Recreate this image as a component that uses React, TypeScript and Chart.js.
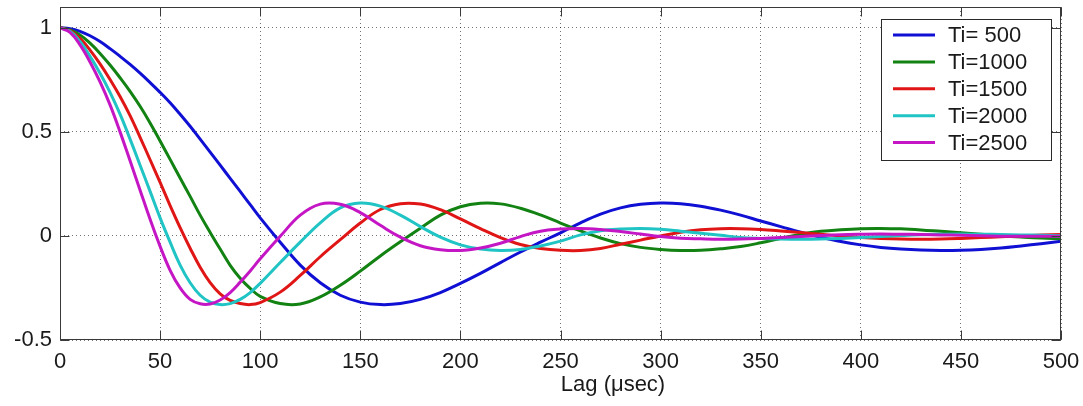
import React, { useEffect, useRef } from 'react';
import { Chart, registerables } from 'chart.js';

Chart.register(...registerables);

// Lag values (µsec)
const lags = [
  0, 5, 10, 15, 20, 25, 30, 35, 40, 45, 50, 55, 60, 65, 70, 75, 80, 85, 90, 95, 100,
  110, 120, 130, 140, 150, 160, 170, 180, 190, 200, 210, 220, 230, 240, 250, 260, 270, 280, 290, 300,
  310, 320, 330, 340, 350, 360, 370, 380, 390, 400, 410, 420, 430, 440, 450, 460, 470, 480, 490, 500,
];

const ti500 = [
  1.0, 0.996, 0.983, 0.962, 0.934, 0.9, 0.863, 0.824, 0.782, 0.737, 0.69, 0.64, 0.585, 0.527, 0.465, 0.403, 0.34, 0.277, 0.214, 0.15, 0.087,
  -0.03, -0.14, -0.225, -0.285, -0.318, -0.33, -0.325, -0.305, -0.272, -0.228,
  -0.18, -0.128, -0.077, -0.03, 0.015, 0.063, 0.105, 0.135, 0.152, 0.158,
  0.155, 0.143, 0.124, 0.1, 0.072, 0.045, 0.018, -0.006, -0.027, -0.043,
  -0.055, -0.063, -0.068, -0.07, -0.069, -0.065, -0.058, -0.048, -0.037, -0.025,
];

const ti1000 = [
  1.0, 0.99, 0.966, 0.926, 0.877, 0.821, 0.76, 0.695, 0.623, 0.543, 0.456, 0.368, 0.278, 0.19, 0.1, 0.017, -0.063, -0.141, -0.203, -0.252, -0.29,
  -0.325, -0.327, -0.293, -0.237, -0.169, -0.096, -0.028, 0.037, 0.1, 0.14,
  0.157, 0.154, 0.133, 0.101, 0.062, 0.024, -0.01, -0.037, -0.055, -0.065,
  -0.07, -0.069, -0.062, -0.051, -0.033, -0.012, 0.008, 0.022, 0.03, 0.035,
  0.036, 0.034, 0.029, 0.022, 0.015, 0.008, 0.001, -0.005, -0.01, -0.013,
];

const ti1500 = [
  1.0, 0.987, 0.949, 0.893, 0.827, 0.752, 0.67, 0.578, 0.474, 0.366, 0.257, 0.146, 0.04, -0.059, -0.15, -0.224, -0.278, -0.31, -0.325, -0.33, -0.32,
  -0.27, -0.19, -0.1, -0.018, 0.062, 0.127, 0.155, 0.153, 0.126, 0.082,
  0.035, -0.008, -0.041, -0.06, -0.069, -0.07, -0.06, -0.04, -0.02, 0.0,
  0.018, 0.03, 0.035, 0.035, 0.031, 0.024, 0.016, 0.008, 0.0, -0.007,
  -0.012, -0.015, -0.016, -0.015, -0.012, -0.008, -0.004, 0.0, 0.004, 0.007,
];

const ti2000 = [
  1.0, 0.983, 0.934, 0.863, 0.782, 0.69, 0.585, 0.465, 0.34, 0.214, 0.087, -0.03, -0.14, -0.225, -0.285, -0.318, -0.33, -0.325, -0.305, -0.272, -0.228,
  -0.128, -0.03, 0.063, 0.135, 0.158, 0.143, 0.1, 0.045, -0.006, -0.043,
  -0.063, -0.07, -0.065, -0.048, -0.025, 0.005, 0.025, 0.033, 0.036, 0.032,
  0.023, 0.013, 0.003, -0.007, -0.012, -0.015, -0.016, -0.015, -0.012, -0.008,
  -0.003, 0.002, 0.006, 0.008, 0.009, 0.008, 0.007, 0.005, 0.003, 0.001,
];

const ti2500 = [
  1.0, 0.978, 0.918, 0.836, 0.74, 0.63, 0.5, 0.361, 0.22, 0.08, -0.05, -0.165, -0.25, -0.305, -0.326, -0.327, -0.308, -0.272, -0.222, -0.168, -0.11,
  -0.002, 0.1, 0.153, 0.152, 0.112, 0.051, -0.006, -0.047, -0.066, -0.07,
  -0.058, -0.035, -0.003, 0.023, 0.033, 0.036, 0.031, 0.021, 0.009, -0.003,
  -0.011, -0.014, -0.016, -0.015, -0.012, -0.008, -0.003, 0.002, 0.006, 0.008,
  0.009, 0.008, 0.007, 0.005, 0.003, 0.001, -0.001, -0.002, -0.002, -0.002,
];

const seriesLabels = ['Ti= 500', 'Ti=1000', 'Ti=1500', 'Ti=2000', 'Ti=2500'];
const seriesValues = [ti500, ti1000, ti1500, ti2000, ti2500];
const seriesColors = ['#1010d4', '#128212', '#e01616', '#20c4c4', '#c416c4'];

const xTickValues = [0, 50, 100, 150, 200, 250, 300, 350, 400, 450, 500];
const yTickValues = [-0.5, 0, 0.5, 1];
const xAxisTitle = 'Lag (\u03bcsec)';

const FONT = '"Liberation Sans", Arial, sans-serif';

const framePlugin = {
  id: 'matlabFrame',
  afterDatasetsDraw(chart: any) {
    const { ctx, chartArea: a, scales } = chart;
    ctx.save();
    ctx.strokeStyle = '#3a3a3a';
    ctx.lineWidth = 1;
    const L = Math.round(a.left) + 0.5;
    const R = Math.round(a.right) - 0.5;
    const T = Math.round(a.top) + 0.5;
    const B = Math.round(a.bottom) - 0.5;
    ctx.strokeRect(L, T, R - L, B - T);
    const tl = 9;
    ctx.beginPath();
    xTickValues.forEach((v) => {
      const px = Math.round(scales.x.getPixelForValue(v)) + 0.5;
      ctx.moveTo(px, B);
      ctx.lineTo(px, B - tl);
      ctx.moveTo(px, T);
      ctx.lineTo(px, T + tl);
    });
    yTickValues.forEach((v) => {
      const py = Math.round(scales.y.getPixelForValue(v)) + 0.5;
      ctx.moveTo(L, py);
      ctx.lineTo(L + tl, py);
      ctx.moveTo(R, py);
      ctx.lineTo(R - tl, py);
    });
    ctx.stroke();
    ctx.restore();
  },
  afterDraw(chart: any) {
    const { ctx } = chart;
    ctx.save();
    // axis title
    ctx.font = `22px ${FONT}`;
    ctx.fillStyle = '#1a1a1a';
    ctx.textAlign = 'center';
    ctx.textBaseline = 'middle';
    ctx.fillText(xAxisTitle, 613, 385);

    // legend box
    const bx = 881.5, by = 19.5, bw = 170, bh = 141;
    ctx.fillStyle = '#ffffff';
    ctx.fillRect(bx, by, bw, bh);
    ctx.strokeStyle = '#2a2a2a';
    ctx.lineWidth = 1;
    ctx.strokeRect(bx, by, bw, bh);
    ctx.textAlign = 'left';
    chart.data.datasets.forEach((ds: any, i: number) => {
      const y = 35 + i * 26.9;
      ctx.strokeStyle = ds.borderColor;
      ctx.lineWidth = 3;
      ctx.beginPath();
      ctx.moveTo(893, y);
      ctx.lineTo(935, y);
      ctx.stroke();
      ctx.fillStyle = '#1a1a1a';
      ctx.fillText(ds.label, 948, y + 1);
    });
    ctx.restore();
  },
};

export default function App() {
  const canvasRef = useRef<HTMLCanvasElement | null>(null);

  useEffect(() => {
    const canvas = canvasRef.current;
    if (!canvas) return;
    const datasets = seriesValues.map((vals, i) => ({
      label: seriesLabels[i],
      data: lags.map((x, j) => ({ x, y: vals[j] })),
      borderColor: seriesColors[i],
      backgroundColor: seriesColors[i],
      borderWidth: 3,
      pointRadius: 0,
      fill: false,
      tension: 0.4,
      order: seriesValues.length - i,
    }));

    const chart = new Chart(canvas, {
      type: 'line',
      data: { datasets },
      plugins: [framePlugin],
      options: {
        animation: false,
        responsive: false,
        maintainAspectRatio: false,
        layout: { padding: { left: 0, top: 7, right: 22, bottom: 0 } },
        plugins: {
          legend: { display: false },
          tooltip: { enabled: false },
          title: { display: false },
        },
        scales: {
          x: {
            type: 'linear',
            min: 0,
            max: 500,
            afterBuildTicks: (s: any) => {
              s.ticks = xTickValues.map((v) => ({ value: v }));
            },
            afterFit: (s: any) => {
              s.height = 66;
              s.paddingLeft = 0;
              s.paddingRight = 0;
            },
            ticks: {
              color: '#1a1a1a',
              font: { family: FONT, size: 22 },
              padding: 9,
              maxRotation: 0,
              autoSkip: false,
            },
            grid: {
              color: 'rgba(0,0,0,0.55)',
              lineWidth: 1,
              drawTicks: false,
            },
            border: { display: false, dash: [1, 3] },
          },
          y: {
            type: 'linear',
            min: -0.5,
            max: 1.1,
            afterBuildTicks: (s: any) => {
              s.ticks = yTickValues.map((v) => ({ value: v }));
            },
            afterFit: (s: any) => {
              s.width = 60;
              s.paddingTop = 0;
              s.paddingBottom = 0;
            },
            ticks: {
              color: '#1a1a1a',
              font: { family: FONT, size: 22 },
              padding: 8,
              callback: (v: any) => String(v),
            },
            grid: {
              color: 'rgba(0,0,0,0.55)',
              lineWidth: 1,
              drawTicks: false,
            },
            border: { display: false, dash: [1, 3] },
          },
        },
      },
    });

    return () => chart.destroy();
  }, []);

  return (
    <div style={{ position: 'fixed', left: 0, top: 0, width: 1083, height: 406, background: '#fff' }}>
      <canvas ref={canvasRef} width={1083} height={406} style={{ display: 'block', width: 1083, height: 406 }} />
    </div>
  );
}
